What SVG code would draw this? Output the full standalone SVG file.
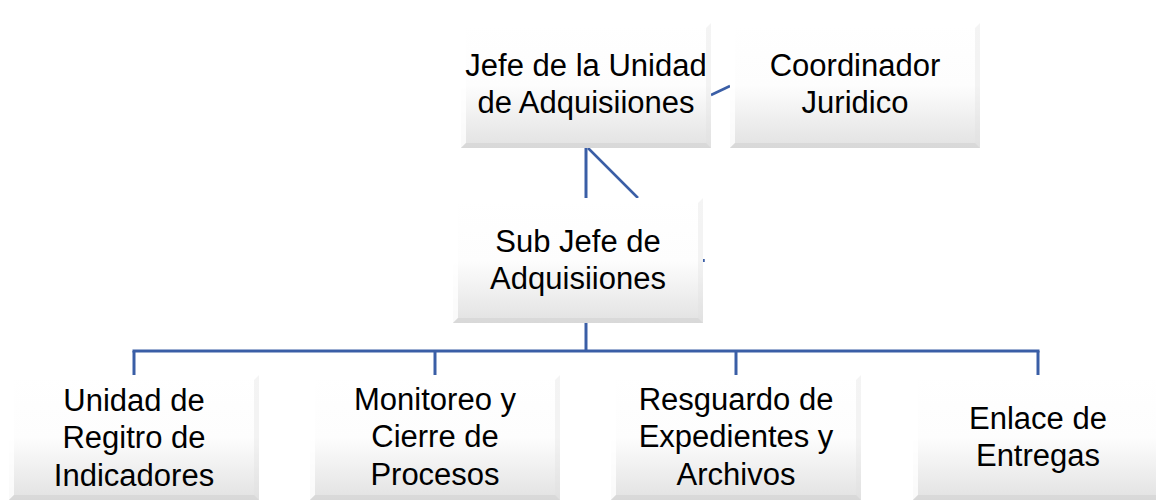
<svg xmlns="http://www.w3.org/2000/svg" xmlns:xlink="http://www.w3.org/1999/xlink" width="1156" height="500" viewBox="0 0 1156 500">
<style>
.lbl{font-family:"Liberation Sans",Arial,sans-serif;font-size:31px;fill:#000;text-anchor:middle}
.con{stroke:#3a5ea6;stroke-width:3;fill:none}
.thin{stroke:#3a5ea6;stroke-width:2.5;fill:none}
</style>
<defs>
<linearGradient id="face" x1="0" y1="0" x2="0" y2="1">
<stop offset="0" stop-color="#ffffff"/>
<stop offset="0.5" stop-color="#fdfdfd"/>
<stop offset="1" stop-color="#e2e2e2"/>
</linearGradient>
<g id="box">
<rect x="0" y="0" width="250" height="125" fill="url(#face)"/>
<polygon points="0,0 250,0 245,5 5,5" fill="#ffffff"/>
<polygon points="0,0 5,5 5,120 0,125" fill="#ffffff" opacity="0.8"/>
<polygon points="250,0 245,5 245,120 250,125" fill="#e0e0e0" opacity="0.35"/>
<polygon points="0,125 5,120 245,120 250,125" fill="#d2d2d2" opacity="0.6"/>
</g>
</defs>
<rect width="1156" height="500" fill="#ffffff"/>
<g id="connectors">
<line class="thin" x1="711" y1="95" x2="730" y2="86"/>
<line class="con" x1="586" y1="147" x2="586" y2="198"/>
<line class="thin" x1="588" y1="148" x2="638" y2="198"/>
<line class="con" x1="586" y1="323" x2="586" y2="352"/>
<line class="con" x1="132.5" y1="351" x2="1039.5" y2="351"/>
<line class="con" x1="134" y1="351" x2="134" y2="375"/>
<line class="con" x1="435" y1="351" x2="435" y2="375"/>
<line class="con" x1="736" y1="351" x2="736" y2="375"/>
<line class="con" x1="1038" y1="351" x2="1038" y2="375"/>
<line class="thin" x1="703.5" y1="259" x2="703.5" y2="262" stroke-width="2"/>
</g>
<g id="jefe">
<use xlink:href="#box" x="461" y="23"/>
<text class="lbl" x="586" y="76">Jefe de la Unidad</text>
<text class="lbl" x="586" y="113">de Adquisiiones</text>
</g>
<g id="coordinador">
<use xlink:href="#box" x="730" y="23"/>
<text class="lbl" x="855" y="76">Coordinador</text>
<text class="lbl" x="855" y="113">Juridico</text>
</g>
<g id="subjefe">
<use xlink:href="#box" x="453" y="198"/>
<text class="lbl" x="578" y="252">Sub Jefe de</text>
<text class="lbl" x="578" y="289">Adquisiiones</text>
</g>
<g id="unidad">
<use xlink:href="#box" x="9" y="375"/>
<text class="lbl" x="134" y="411">Unidad de</text>
<text class="lbl" x="134" y="448">Regitro de</text>
<text class="lbl" x="134" y="486">Indicadores</text>
</g>
<g id="monitoreo">
<use xlink:href="#box" x="310" y="375"/>
<text class="lbl" x="435" y="410">Monitoreo y</text>
<text class="lbl" x="435" y="447">Cierre de</text>
<text class="lbl" x="435" y="485">Procesos</text>
</g>
<g id="resguardo">
<use xlink:href="#box" x="611" y="375"/>
<text class="lbl" x="736" y="410">Resguardo de</text>
<text class="lbl" x="736" y="447">Expedientes y</text>
<text class="lbl" x="736" y="485">Archivos</text>
</g>
<g id="enlace">
<use xlink:href="#box" x="913" y="375"/>
<text class="lbl" x="1038" y="429">Enlace de</text>
<text class="lbl" x="1038" y="466">Entregas</text>
</g>
</svg>
